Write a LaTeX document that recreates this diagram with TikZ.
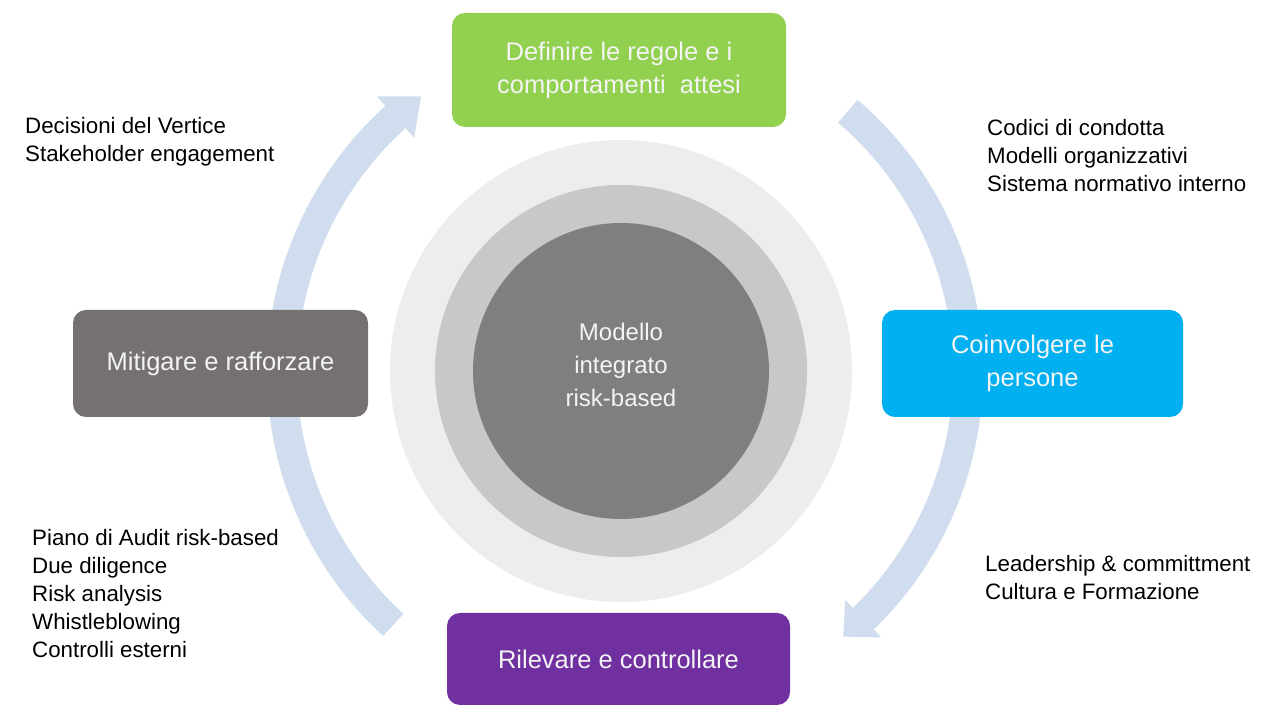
\documentclass[tikz,border=0pt]{standalone}
\usepackage{fontspec}
\setmainfont{Liberation Sans}
\usetikzlibrary{calc}
\definecolor{boxgreen}{HTML}{92D050}
\definecolor{boxcyan}{HTML}{00B0F0}
\definecolor{boxpurple}{HTML}{7030A0}
\definecolor{boxgray}{HTML}{767171}
\definecolor{ringblue}{HTML}{D0DDEF}
\definecolor{circA}{HTML}{EDEDED}
\definecolor{circB}{HTML}{C8C8C8}
\definecolor{circC}{HTML}{7F7F7F}
\definecolor{boxtext}{HTML}{F4F4F4}
\begin{document}
\begin{tikzpicture}[x=1pt,y=1pt,
  phase/.style={rounded corners=13pt, text=boxtext, align=center, inner sep=0pt,
                font=\fontsize{25.5}{33}\selectfont},
  sidetext/.style={anchor=west, align=left, inner sep=0pt, text=black,
                font=\fontsize{22.3}{28}\selectfont},
  ring/.style={draw=ringblue, line width=30pt},
  head/.style={fill=ringblue, draw=none},
  disc/.style={circle, draw=none, inner sep=0pt}]
\useasboundingbox (0,0) rectangle (1265,706);
\fill[white] (0,0) rectangle (1265,706);
\coordinate (c) at (621,335);
\coordinate (rc) at (625,334);
% cycle arrows
\draw[ring] ($(rc)+(172:343)$) arc[start angle=172, end angle=132, radius=343];
\fill[head] ($(rc)+(132:371)$) -- ($(rc)+(126.5:343)$) -- ($(rc)+(132:315)$) -- cycle;
\draw[ring] ($(rc)+(49.5:343)$) arc[start angle=49.5, end angle=4, radius=343];
\draw[ring] ($(rc)+(-4:343)$) arc[start angle=-4, end angle=-46, radius=343];
\fill[head] ($(rc)+(-46:369)$) -- ($(rc)+(-50.5:343)$) -- ($(rc)+(-46:317)$) -- cycle;
\draw[ring] ($(rc)+(227.5:343)$) arc[start angle=227.5, end angle=186, radius=343];
% central discs
\node[disc, fill=circA, minimum size=462pt] (outer) at (c) {};
\node[disc, fill=circB, minimum size=372pt] (middle) at (c) {};
\node[disc, fill=circC, minimum size=296pt] (core) at (c) {};
\node[text=boxtext, align=center, inner sep=0pt, font=\fontsize{24}{33}\selectfont]
  (coretext) at ($(c)+(0,6)$) {Modello\\integrato\\risk-based};
% phase boxes
\node[phase, fill=boxgreen, minimum width=334pt, minimum height=114pt] (define) at (619,636)
  {Definire le regole e i\\comportamenti~ attesi};
\node[phase, fill=boxcyan, minimum width=301pt, minimum height=107pt] (involve) at (1032.5,342.5)
  {Coinvolgere le\\persone};
\node[phase, fill=boxpurple, minimum width=343pt, minimum height=92pt] (detect) at (618.5,47)
  {Rilevare e controllare};
\node[phase, fill=boxgray, minimum width=295pt, minimum height=107pt] (mitigate) at (220.5,342.5)
  {Mitigare e rafforzare};
% side texts
\node[sidetext] (tl) at (25,564) {Decisioni del Vertice\\Stakeholder engagement};
\node[sidetext] (tr) at (987,550) {Codici di condotta\\Modelli organizzativi\\Sistema normativo interno};
\node[sidetext] (bl) at (32,112) {Piano di Audit risk-based\\Due diligence\\Risk analysis\\Whistleblowing\\Controlli esterni};
\node[sidetext] (br) at (985,128) {Leadership \& committment\\Cultura e Formazione};
\end{tikzpicture}
\end{document}
